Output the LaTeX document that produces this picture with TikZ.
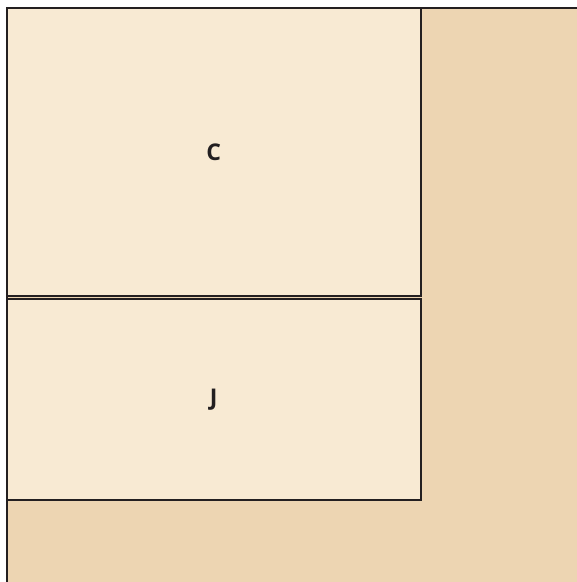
\documentclass[tikz,border=0pt]{standalone}
\usepackage{fontspec}
\setsansfont{Open Sans}
\usetikzlibrary{positioning}
\definecolor{plotout}{RGB}{237,213,178}
\definecolor{plotin}{RGB}{248,234,211}
\definecolor{plotln}{RGB}{35,31,32}
\tikzset{
  lotbox/.style  = {draw=plotln, fill=plotout, line width=2pt,
                    minimum width=620pt, minimum height=620pt, anchor=north west},
  roombox/.style = {draw=plotln, fill=plotin, line width=1.6pt,
                    minimum width=414pt, align=center, text=plotln,
                    font=\sffamily\bfseries\fontsize{23}{23}\selectfont},
}
\begin{document}
\begin{tikzpicture}[x=1pt, y=1pt]
  \useasboundingbox (0,0) rectangle (577,-582);
  \clip (0,0) rectangle (577,-582);
  \node[lotbox] (lot) at (6,-7) {};
  \node[roombox, minimum height=288pt, anchor=north west] (c) at (6,-7) {C};
  \node[roombox, minimum height=201pt, below=1.4pt of c] (j) {J};
\end{tikzpicture}
\end{document}
